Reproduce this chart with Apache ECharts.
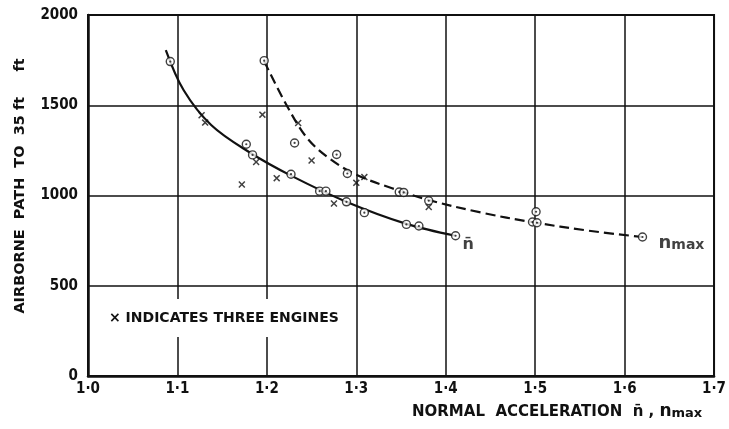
<!DOCTYPE html>
<html><head><meta charset="utf-8">
<script src="https://cdn.jsdelivr.net/npm/echarts@6/dist/echarts.min.js"></script>
<style>html,body{margin:0;padding:0;background:#fff}#c{width:729px;height:429px}</style>
</head><body><div id="c"></div>
<script>
// ---- data ----
const xTickValues = [1.0, 1.1, 1.2, 1.3, 1.4, 1.5, 1.6, 1.7];
const xTickLabels = ['1·0', '1·1', '1·2', '1·3', '1·4', '1·5', '1·6', '1·7'];
const yTickLabels = ['0', '500', '1000', '1500', '2000'];

// n-bar (mean normal acceleration) test points, circles
const nBarPtsX = [1.092, 1.177, 1.184, 1.227, 1.259, 1.266, 1.289, 1.309, 1.356, 1.370, 1.411];
const nBarPtsY = [1742, 1284, 1225, 1118, 1024, 1024, 965, 905, 840, 831, 777];
// n-max test points, circles
const nMaxPtsX = [1.197, 1.231, 1.278, 1.290, 1.348, 1.353, 1.381, 1.501, 1.497, 1.502, 1.620];
const nMaxPtsY = [1747, 1291, 1227, 1122, 1019, 1017, 971, 910, 853, 849, 770];
// three-engine points, crosses
const threeEngX = [1.127, 1.131, 1.172, 1.195, 1.188, 1.211, 1.235, 1.250, 1.300, 1.309, 1.275, 1.381];
const threeEngY = [1445, 1404, 1061, 1448, 1186, 1096, 1402, 1194, 1070, 1102, 956, 936];

// faired curves
const nBarCurveX = [1.087, 1.107, 1.138, 1.180, 1.227, 1.290, 1.356, 1.411];
const nBarCurveY = [1806, 1583, 1389, 1241, 1110, 963, 843, 777];
const nMaxCurveX = [1.197, 1.221, 1.245, 1.270, 1.300, 1.340, 1.381, 1.440, 1.496, 1.560, 1.620];
const nMaxCurveY = [1744, 1510, 1318, 1205, 1115, 1040, 975, 905, 853, 805, 770];

// curve end labels anchor
const nBarLabelAt = [1.411, 777];
const nMaxLabelAt = [1.620, 770];

const zip = (a, b) => a.map((v, i) => [v, b[i]]);
const FONT = "'DejaVu Sans', sans-serif";
const CFONT = "'DejaVu Sans Condensed', 'DejaVu Sans', sans-serif";
const INK = '#111';
const crossPath = 'path://M0,1.5L1.5,0L5,3.5L8.5,0L10,1.5L6.5,5L10,8.5L8.5,10L5,6.5L1.5,10L0,8.5L3.5,5Z';

const chart = echarts.init(document.getElementById('c'), null, {renderer: 'canvas'});
chart.setOption({
  animation: false,
  backgroundColor: '#fff',
  grid: {left: 88, right: 11, top: 15, bottom: 53, show: true, borderColor: INK, borderWidth: 2, backgroundColor: 'transparent'},
  xAxis: {
    type: 'value', min: 1.0, max: 1.7, interval: 0.1,
    axisLine: {show: true, onZero: false, lineStyle: {color: INK, width: 2.5}},
    axisTick: {show: false},
    splitLine: {show: true, lineStyle: {color: INK, width: 1.5}},
    axisLabel: {
      margin: 6, color: INK, fontFamily: CFONT, fontWeight: 'bold', fontSize: 15,
      formatter: v => { const i = xTickValues.findIndex(t => Math.abs(t - v) < 1e-6); return i >= 0 ? xTickLabels[i] : ''; }
    }
  },
  yAxis: {
    type: 'value', min: 0, max: 2000, interval: 500,
    axisLine: {show: true, lineStyle: {color: INK, width: 2.5}},
    axisTick: {show: false},
    splitLine: {show: true, lineStyle: {color: INK, width: 1.5}},
    axisLabel: {
      margin: 10, color: INK, fontFamily: CFONT, fontWeight: 'bold', fontSize: 15,
      formatter: v => yTickLabels[Math.round(v / 500)]
    }
  },
  series: [
    {type: 'line', data: zip(nBarCurveX, nBarCurveY), smooth: 0.35, showSymbol: false, symbol: 'none',
     lineStyle: {color: INK, width: 2.2}, z: 2},
    {type: 'line', data: zip(nMaxCurveX, nMaxCurveY), smooth: 0.35, showSymbol: false, symbol: 'none',
     lineStyle: {color: INK, width: 2.2, type: [10, 5]}, z: 2},
    {type: 'scatter', data: zip(threeEngX, threeEngY), symbol: crossPath, symbolSize: 7,
     itemStyle: {color: INK}, z: 4},
    {type: 'scatter', data: zip(nBarPtsX, nBarPtsY).concat(zip(nMaxPtsX, nMaxPtsY)), symbol: 'circle', symbolSize: 8,
     itemStyle: {color: '#fff', borderColor: INK, borderWidth: 1.4}, z: 5},
    {type: 'scatter', data: zip(nBarPtsX, nBarPtsY).concat(zip(nMaxPtsX, nMaxPtsY)), symbol: 'circle', symbolSize: 2.2,
     itemStyle: {color: INK}, z: 6},
    {type: 'scatter', data: [nBarLabelAt], symbolSize: 0, silent: true, z: 7,
     label: {show: true, position: 'right', distance: 7, offset: [0, 9], formatter: 'n\u0304',
             color: INK, fontFamily: FONT, fontWeight: 'bold', fontSize: 16}},
    {type: 'scatter', data: [nMaxLabelAt], symbolSize: 0, silent: true, z: 7,
     label: {show: true, position: 'right', distance: 16, offset: [0, 4], formatter: '{n|n}{s|max}',
             rich: {n: {color: INK, fontFamily: FONT, fontWeight: 'bold', fontSize: 18, verticalAlign: 'bottom'},
                    s: {color: INK, fontFamily: FONT, fontWeight: 'bold', fontSize: 14, padding: [9, 0, 0, 0], verticalAlign: 'bottom'}}}}
  ],
  graphic: [
    {type: 'text', left: 104, top: 299, z: 10,
     style: {text: '× INDICATES THREE ENGINES', font: "bold 14px " + FONT, fill: INK, backgroundColor: '#fff', padding: [12, 5]}},
    {type: 'text', x: 20, y: 186, rotation: Math.PI / 2, z: 10,
     style: {text: 'AIRBORNE  PATH  TO  35 ft     ft', font: "bold 14.5px " + FONT, fill: INK, align: 'center', verticalAlign: 'middle'}},
    {type: 'text', left: 412, top: 403, z: 10,
     style: {text: '{a|NORMAL  ACCELERATION  n\u0304 , }{n|n}{s|max}',
       rich: {a: {font: "bold 15px " + FONT, fill: INK, verticalAlign: 'bottom'},
              n: {font: "bold 17px " + FONT, fill: INK, verticalAlign: 'bottom'},
              s: {font: "bold 13px " + FONT, fill: INK, padding: [7, 0, 0, 0], verticalAlign: 'bottom'}}}}
  ]
});
</script></body></html>
